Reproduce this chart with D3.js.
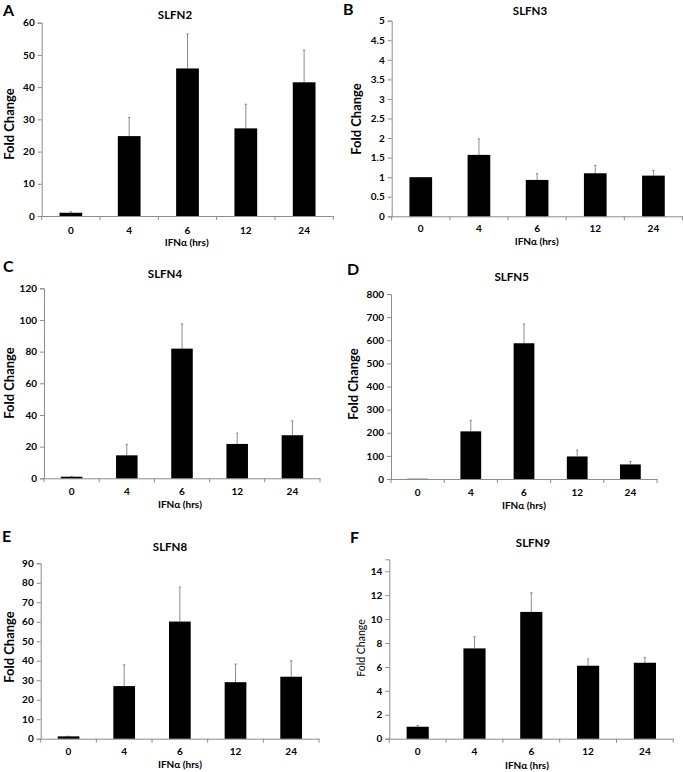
<!DOCTYPE html>
<html>
<head>
<meta charset="utf-8">
<script src="https://cdn.jsdelivr.net/npm/d3@7"></script>
<style>
  html, body { margin: 0; padding: 0; background: #fff; }
  svg { display: block; }
  text { font-family: Lato, "Open Sans", sans-serif; fill: #000; }
</style>
</head>
<body>
<svg id="chart" width="683" height="772"></svg>
<script>
// ---------------- data ----------------
const categories = ["0", "4", "6", "12", "24"];

const slfn2Values = [1.0, 24.8, 45.8, 27.2, 41.5];
const slfn2Errors = [0.3, 5.8, 10.7, 7.5, 10.0];
const slfn2Ticks  = [0, 10, 20, 30, 40, 50, 60];

const slfn3Values = [1.0, 1.57, 0.93, 1.1, 1.04];
const slfn3Errors = [0.0, 0.41, 0.16, 0.2, 0.13];
const slfn3Ticks  = [0, 0.5, 1, 1.5, 2, 2.5, 3, 3.5, 4, 4.5, 5];

const slfn4Values = [1.0, 14.5, 81.9, 21.7, 27.2];
const slfn4Errors = [0.2, 7.0, 15.6, 6.9, 9.0];
const slfn4Ticks  = [0, 20, 40, 60, 80, 100, 120];

const slfn5Values = [1.0, 206, 587, 97.5, 63];
const slfn5Errors = [0.0, 48, 83, 27.5, 13];
const slfn5Ticks  = [0, 100, 200, 300, 400, 500, 600, 700, 800];

const slfn8Values = [1.2, 27.0, 60.1, 29.0, 31.8];
const slfn8Errors = [0.1, 10.9, 17.7, 9.3, 8.2];
const slfn8Ticks  = [0, 10, 20, 30, 40, 50, 60, 70, 80, 90];

const slfn9Values = [1.0, 7.55, 10.6, 6.1, 6.35];
const slfn9Errors = [0.1, 0.98, 1.6, 0.56, 0.45];
const slfn9Ticks  = [0, 2, 4, 6, 8, 10, 12, 14];

const xTitle = "IFNα (hrs)";
const yTitle = "Fold Change";

// ---------------- layout ----------------
const panels = [
  { letter: "A", title: "SLFN2", values: slfn2Values, errors: slfn2Errors, ticks: slfn2Ticks, yMax: 60,
    left: 41.7, right: 333.3, top: 22.7, bottom: 216,
    titlePos: [175, 19], letterPos: [3, 15.5], yTitlePos: [8.5, 124], yTitleBold: true,
    xTickY: 233.5, xTitlePos: [186.7, 246] },
  { letter: "B", title: "SLFN3", values: slfn3Values, errors: slfn3Errors, ticks: slfn3Ticks, yMax: 5,
    left: 391.7, right: 682.5, top: 20.7, bottom: 216.3,
    titlePos: [530, 15], letterPos: [343, 15], yTitlePos: [355.5, 119], yTitleBold: true,
    xTickY: 232, xTitlePos: [536.7, 245] },
  { letter: "C", title: "SLFN4", values: slfn4Values, errors: slfn4Errors, ticks: slfn4Ticks, yMax: 120,
    left: 44, right: 320, top: 288.3, bottom: 478.3,
    titlePos: [165, 278], letterPos: [3, 272], yTitlePos: [8.5, 383], yTitleBold: true,
    xTickY: 495, xTitlePos: [180, 507.5] },
  { letter: "D", title: "SLFN5", values: slfn5Values, errors: slfn5Errors, ticks: slfn5Ticks, yMax: 800,
    left: 391, right: 657, top: 294, bottom: 479,
    titlePos: [511.7, 281], letterPos: [347, 275], yTitlePos: [353, 384], yTitleBold: true,
    xTickY: 496, xTitlePos: [524, 508.5] },
  { letter: "E", title: "SLFN8", values: slfn8Values, errors: slfn8Errors, ticks: slfn8Ticks, yMax: 90,
    left: 40.7, right: 319, top: 563.3, bottom: 738.7,
    titlePos: [170, 551], letterPos: [2, 542], yTitlePos: [8.5, 647], yTitleBold: true,
    xTickY: 755, xTitlePos: [180, 768] },
  { letter: "F", title: "SLFN9", values: slfn9Values, errors: slfn9Errors, ticks: slfn9Ticks, yMax: 15,
    left: 389.3, right: 673.3, top: 559.3, bottom: 738.7,
    titlePos: [533, 547], letterPos: [350, 543], yTitlePos: [360.7, 648], yTitleBold: false,
    xTickY: 755, xTitlePos: [527, 769] }
];

const axisColor = "#8c8c8c";
const errColor = "#8c8c8c";
const svg = d3.select("#chart");

panels.forEach(p => {
  const g = svg.append("g");
  const x = d3.scaleBand().domain(categories).range([p.left, p.right]).padding(0);
  const y = d3.scaleLinear().domain([0, p.yMax]).range([p.bottom, p.top]);
  const barW = x.bandwidth() * 0.39;

  // y axis
  const yAxis = g.append("g").attr("transform", `translate(${p.left},0)`)
    .call(d3.axisLeft(y).tickValues(p.ticks).tickSize(4).tickPadding(3).tickFormat(d => String(d)));
  yAxis.select(".domain").attr("stroke", axisColor).attr("stroke-width", 1);
  yAxis.selectAll(".tick line").attr("stroke", axisColor);
  yAxis.selectAll(".tick text").attr("font-family", "Lato, sans-serif").attr("font-weight", "bold")
    .attr("font-size", 10).attr("fill", "#000");

  // x axis
  const xAxis = g.append("g").attr("transform", `translate(0,${p.bottom})`)
    .call(d3.axisBottom(x).tickSize(0).tickPadding(0));
  xAxis.select(".domain").attr("stroke", axisColor).attr("stroke-width", 1);
  xAxis.selectAll(".tick text").remove();
  const boundaries = categories.map(c => x(c)).concat([x.range()[1]]);
  g.selectAll(".xb").data(boundaries).enter().append("line")
    .attr("x1", d => d).attr("x2", d => d)
    .attr("y1", p.bottom).attr("y2", p.bottom + 4)
    .attr("stroke", axisColor);
  g.selectAll(".xl").data(categories).enter().append("text")
    .attr("x", d => x(d) + x.bandwidth() / 2).attr("y", p.xTickY)
    .attr("text-anchor", "middle").attr("font-weight", "bold").attr("font-size", 10)
    .text(d => d);

  // error bars (behind bars)
  const data = categories.map((c, i) => ({ c, v: p.values[i], e: p.errors[i] }));
  g.selectAll(".err").data(data.filter(d => d.e > 0)).enter().append("line")
    .attr("x1", d => x(d.c) + x.bandwidth() / 2).attr("x2", d => x(d.c) + x.bandwidth() / 2)
    .attr("y1", d => y(d.v)).attr("y2", d => y(d.v + d.e))
    .attr("stroke", errColor).attr("stroke-width", 1);
  g.selectAll(".cap").data(data.filter(d => d.e > 0)).enter().append("line")
    .attr("x1", d => x(d.c) + x.bandwidth() / 2 - 1.2).attr("x2", d => x(d.c) + x.bandwidth() / 2 + 1.2)
    .attr("y1", d => y(d.v + d.e)).attr("y2", d => y(d.v + d.e))
    .attr("stroke", errColor).attr("stroke-width", 1);

  // bars
  g.selectAll(".bar").data(data).enter().append("rect")
    .attr("x", d => x(d.c) + (x.bandwidth() - barW) / 2)
    .attr("width", barW)
    .attr("y", d => y(d.v))
    .attr("height", d => y(0) - y(d.v))
    .attr("fill", "#000");

  // titles
  g.append("text").attr("x", p.titlePos[0]).attr("y", p.titlePos[1])
    .attr("text-anchor", "middle").attr("font-weight", "bold").attr("font-size", 11.5)
    .text(p.title);
  g.append("text").attr("x", p.letterPos[0]).attr("y", p.letterPos[1])
    .attr("font-family", "Liberation Sans, Arial, sans-serif")
    .attr("font-weight", "bold").attr("font-size", 16).text(p.letter);
  g.append("text").attr("transform", `translate(${p.yTitlePos[0]},${p.yTitlePos[1]}) rotate(-90)`)
    .attr("text-anchor", "middle").attr("dominant-baseline", "central")
    .attr("font-weight", p.yTitleBold ? "bold" : "normal")
    .attr("font-size", p.yTitleBold ? 13 : 10.5)
    .text(yTitle);
  g.append("text").attr("x", p.xTitlePos[0]).attr("y", p.xTitlePos[1])
    .attr("text-anchor", "middle").attr("font-weight", "bold").attr("font-size", 10)
    .text(xTitle);
});
</script>
</body>
</html>
